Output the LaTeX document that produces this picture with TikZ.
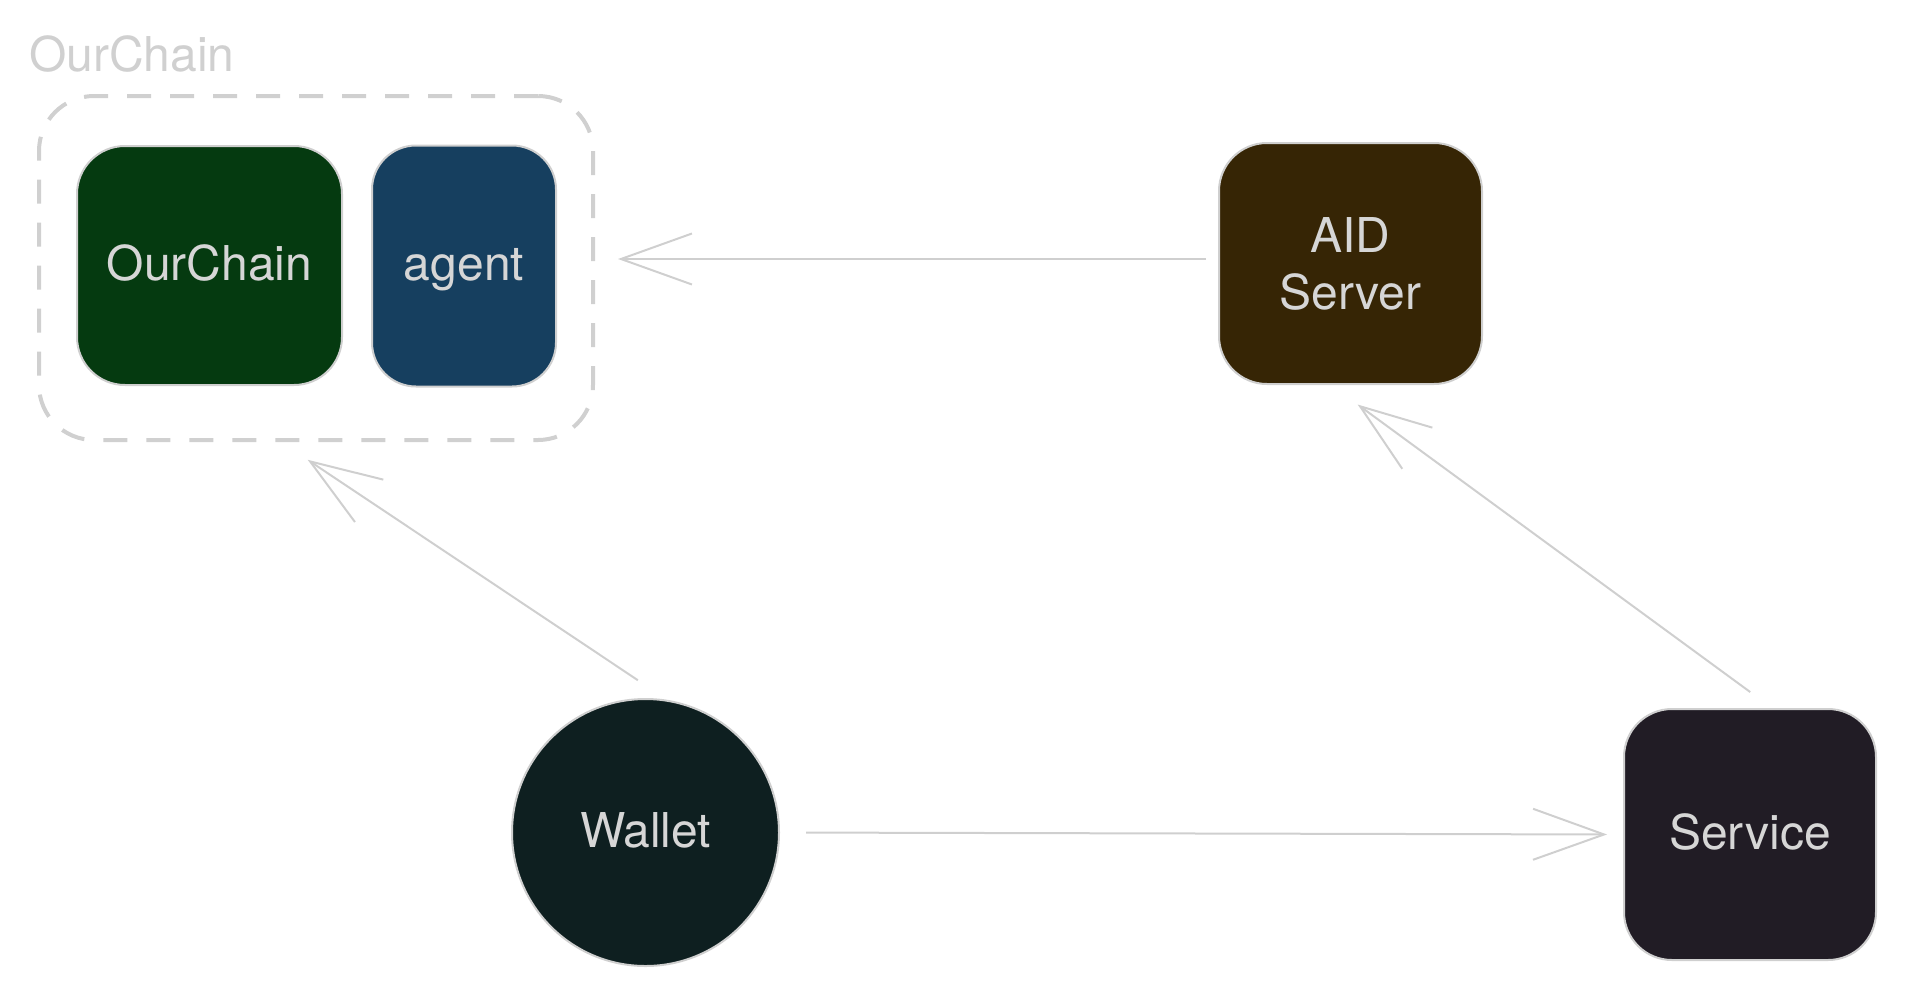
\documentclass[tikz,border=0pt]{standalone}
\usepackage{fontspec}
\setmainfont{TeX Gyre Heros}
\usetikzlibrary{arrows.meta}
\definecolor{bordergray}{HTML}{CFCFCF}
\definecolor{dashgray}{HTML}{D0D0D0}
\definecolor{txtgray}{HTML}{D6D6D6}
\definecolor{chaingreen}{HTML}{053A10}
\definecolor{agentblue}{HTML}{163F5F}
\definecolor{aidbrown}{HTML}{362505}
\definecolor{walletdark}{HTML}{0E1F20}
\definecolor{servicedark}{HTML}{211C25}
\tikzset{
  boxnode/.style={draw=bordergray, line width=2pt, rounded corners=48pt,
    text=txtgray, font=\fontsize{48}{57}\selectfont, align=center, inner sep=0pt,
    text height=36pt, text depth=7pt},
  groupbox/.style={draw=dashgray, line width=4pt, dash pattern=on 24pt off 19pt,
    rounded corners=55pt, inner sep=0pt},
  conn/.style={draw=bordergray, line width=2pt,
    -{Straight Barb[length=71pt,width=51pt,line width=2pt]}},
}
\begin{document}
\begin{tikzpicture}[x=1pt,y=-1pt]
\useasboundingbox (0,0) rectangle (1906,997);
\node[groupbox, minimum width=554pt, minimum height=344pt] (group) at (316,268) {};
\node[anchor=base west, text=dashgray, font=\fontsize{48}{57}\selectfont, inner sep=0pt] (title) at (29,71) {OurChain};
\node[boxnode, fill=chaingreen, minimum width=265pt, minimum height=239pt] (chain) at (209.5,265.5) {OurChain};
\node[boxnode, fill=agentblue, minimum width=184pt, minimum height=241pt, rounded corners=44pt] (agent) at (464,266) {agent};
\node[boxnode, fill=aidbrown, minimum width=263pt, minimum height=241pt, text height=, text depth=] (aid) at (1350.5,263.5) {AID\\Server};
\node[boxnode, fill=walletdark, circle, minimum size=267pt] (wallet) at (645.5,832.5) {Wallet};
\node[boxnode, fill=servicedark, minimum width=252pt, minimum height=251pt] (service) at (1750,834.5) {Service};
\draw[conn, shorten <=12pt, shorten >=23pt] ([yshift=4.5pt]aid.west) -- ([yshift=9pt]group.east);
\draw[conn, shorten <=32pt, shorten >=32pt] ([xshift=19pt]wallet.north) -- ([xshift=-35pt]group.south);
\draw[conn, shorten <=27pt, shorten >=33pt] ([xshift=22pt]service.north) -- ([xshift=-19.5pt]aid.south);
\draw[conn, shorten <=26pt, shorten >=16pt] (wallet.east) -- (service.west);
\end{tikzpicture}
\end{document}
